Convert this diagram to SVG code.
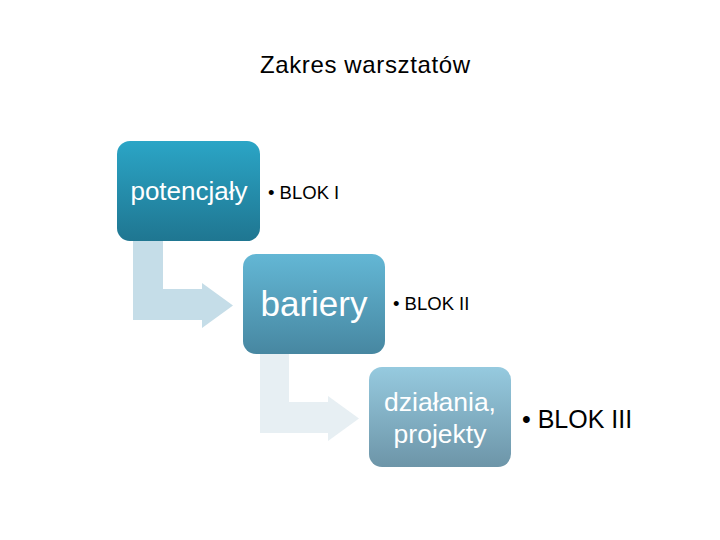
<svg xmlns="http://www.w3.org/2000/svg" width="720" height="540" viewBox="0 0 720 540">
<defs>
<linearGradient id="g1" x1="0" y1="0" x2="0" y2="1"><stop offset="0" stop-color="#2ba5c6"/><stop offset="1" stop-color="#1f7691"/></linearGradient>
<linearGradient id="g2" x1="0" y1="0" x2="0" y2="1"><stop offset="0" stop-color="#63b7d5"/><stop offset="1" stop-color="#4787a1"/></linearGradient>
<linearGradient id="g3" x1="0" y1="0" x2="0" y2="1"><stop offset="0" stop-color="#96cadf"/><stop offset="1" stop-color="#6d95a8"/></linearGradient>
<style>
.t{font-family:"Liberation Sans",Arial,sans-serif;}
.w{fill:#ffffff;text-anchor:middle;}
.b{fill:#000000;}
</style>
</defs>
<rect width="720" height="540" fill="#ffffff"/>
<text class="t b" x="365" y="73" font-size="24" text-anchor="middle" textLength="210">Zakres warsztatów</text>
<g id="connectors">
<path d="M133,241 H163 V289 H202 V283 L233,305.5 L202,328 V320 H133 Z" fill="#c5dde8"/>
<path d="M260,354 H289 V402 H328 V396 L359,418.5 L328,441 V433 H260 Z" fill="#e7eff3"/>
</g>
<g id="node1">
<rect x="117" y="141" width="143" height="100" rx="13" fill="url(#g1)"/>
<text class="t w" x="189" y="200" font-size="26">potencjały</text>
<text class="t b" x="268" y="199" font-size="18.5">• BLOK I</text>
</g>
<g id="node2">
<rect x="243" y="254" width="142" height="100" rx="13" fill="url(#g2)"/>
<text class="t w" x="314" y="316" font-size="35">bariery</text>
<text class="t b" x="393" y="310" font-size="18.5">• BLOK II</text>
</g>
<g id="node3">
<rect x="369" y="367" width="142" height="100" rx="13" fill="url(#g3)"/>
<text class="t w" x="440" y="411" font-size="26.5">działania,</text>
<text class="t w" x="440" y="443" font-size="26.5">projekty</text>
<text class="t b" x="522" y="428" font-size="25">• BLOK III</text>
</g>
</svg>
